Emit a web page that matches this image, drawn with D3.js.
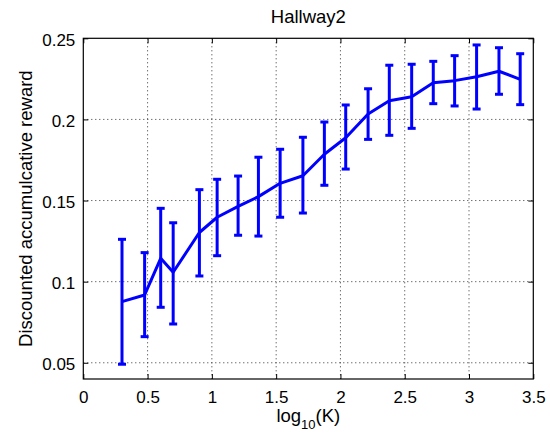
<!DOCTYPE html>
<html>
<head>
<meta charset="utf-8">
<script src="https://cdn.jsdelivr.net/npm/d3@7"></script>
<style>
  html, body { margin: 0; padding: 0; background: #fff; }
  svg { display: block; font-family: "Liberation Sans", Arial, Helvetica, sans-serif; }
</style>
</head>
<body>
<svg id="chart" width="550" height="433"></svg>
<script>
// log10(K) positions of the runs
const logK = [0.301, 0.477, 0.602, 0.699, 0.903, 1.041, 1.204, 1.362, 1.531, 1.708,
              1.875, 2.041, 2.215, 2.380, 2.554, 2.722, 2.888, 3.059, 3.233, 3.398];
// mean discounted reward
const meanReward = [0.0877, 0.0918, 0.1144, 0.1058, 0.1303, 0.1397, 0.1464, 0.1524, 0.1606, 0.1653,
                    0.1785, 0.1887, 0.2033, 0.2115, 0.2140, 0.2226, 0.2239, 0.2263, 0.2297, 0.2247];
// error bar ends
const upperReward = [0.1261, 0.1179, 0.1452, 0.1363, 0.1567, 0.1631, 0.1651, 0.1767, 0.1816, 0.1890,
                     0.1984, 0.2089, 0.2189, 0.2334, 0.2340, 0.2358, 0.2393, 0.2459, 0.2442, 0.2405];
const lowerReward = [0.0491, 0.0661, 0.0842, 0.0739, 0.1035, 0.1160, 0.1286, 0.1281, 0.1397, 0.1423,
                     0.1594, 0.1694, 0.1877, 0.1902, 0.1945, 0.2097, 0.2083, 0.2064, 0.2155, 0.2091];

const xTicks = [0, 0.5, 1, 1.5, 2, 2.5, 3, 3.5];
const yTicks = [0.05, 0.1, 0.15, 0.2, 0.25];

const margin = { left: 83.3, right: 550 - 533.3, top: 38.3, bottom: 433 - 379 };
const W = 550, H = 433;
const innerW = W - margin.left - margin.right;
const innerH = H - margin.top - margin.bottom;

const x = d3.scaleLinear().domain([0, 3.5]).range([0, innerW]);
const y = d3.scaleLinear().domain([0.04, 0.25]).range([innerH, 0]);

const svg = d3.select("#chart");
const g = svg.append("g").attr("transform", `translate(${margin.left},${margin.top})`);

// dotted grid
g.append("g").selectAll("line")
  .data(xTicks.slice(1, -1))
  .join("line")
  .attr("x1", d => x(d)).attr("x2", d => x(d))
  .attr("y1", 0).attr("y2", innerH)
  .attr("stroke", "#333").attr("stroke-width", 1)
  .attr("stroke-dasharray", "1,3");

g.append("g").selectAll("line")
  .data(yTicks.filter(d => d < 0.25))
  .join("line")
  .attr("y1", d => y(d)).attr("y2", d => y(d))
  .attr("x1", 0).attr("x2", innerW)
  .attr("stroke", "#333").attr("stroke-width", 1)
  .attr("stroke-dasharray", "1,3");

// axes, ticks pointing inward (matlab style)
const fmt = d => String(d);
const xAxis = g.append("g")
  .attr("transform", `translate(0,${innerH})`)
  .call(d3.axisBottom(x).tickValues(xTicks).tickFormat(fmt).tickSizeInner(-5).tickSizeOuter(0).tickPadding(12));
const xTop = g.append("g")
  .call(d3.axisTop(x).tickValues(xTicks).tickFormat("").tickSizeInner(-5).tickSizeOuter(0));
const yAxis = g.append("g")
  .call(d3.axisLeft(y).tickValues(yTicks).tickFormat(fmt).tickSizeInner(-5).tickSizeOuter(0).tickPadding(8));
const yRight = g.append("g")
  .attr("transform", `translate(${innerW},0)`)
  .call(d3.axisRight(y).tickValues(yTicks).tickFormat("").tickSizeInner(-5).tickSizeOuter(0));

[xAxis, xTop, yAxis, yRight].forEach(a => {
  a.select(".domain").remove();
  a.selectAll("line").attr("stroke", "#000");
  a.selectAll("text").attr("fill", "#000").style("font-size", "17px");
});
yAxis.selectAll("text").attr("dy", "0.4em");

// box
g.append("rect")
  .attr("x", 0).attr("y", 0).attr("width", innerW).attr("height", innerH)
  .attr("fill", "none").attr("stroke", "#000").attr("stroke-width", 1.2);

// error bars
const pts = logK.map((k, i) => ({ k, m: meanReward[i], lo: lowerReward[i], hi: upperReward[i] }));
const blue = "#0000ff";
const capW = 4;
const eb = g.append("g").attr("stroke", blue).attr("stroke-width", 3).attr("fill", "none");
eb.selectAll("line.v").data(pts).join("line").attr("class", "v")
  .attr("x1", d => x(d.k)).attr("x2", d => x(d.k))
  .attr("y1", d => y(d.lo)).attr("y2", d => y(d.hi));
eb.selectAll("line.t").data(pts).join("line").attr("class", "t")
  .attr("x1", d => x(d.k) - capW).attr("x2", d => x(d.k) + capW)
  .attr("y1", d => y(d.hi)).attr("y2", d => y(d.hi));
eb.selectAll("line.b").data(pts).join("line").attr("class", "b")
  .attr("x1", d => x(d.k) - capW).attr("x2", d => x(d.k) + capW)
  .attr("y1", d => y(d.lo)).attr("y2", d => y(d.lo));

// mean line
g.append("path")
  .datum(pts)
  .attr("fill", "none").attr("stroke", blue).attr("stroke-width", 3)
  .attr("stroke-linejoin", "round")
  .attr("d", d3.line().x(d => x(d.k)).y(d => y(d.m)));

// title and labels
svg.append("text")
  .attr("x", margin.left + innerW / 2).attr("y", 23)
  .attr("text-anchor", "middle").style("font-size", "18.5px")
  .text("Hallway2");

const xl = svg.append("text")
  .attr("x", margin.left + innerW / 2).attr("y", 422)
  .attr("text-anchor", "middle").style("font-size", "18.5px");
xl.append("tspan").text("log");
xl.append("tspan").attr("dy", 7).style("font-size", "13px").text("10");
xl.append("tspan").attr("dy", -7).text("(K)");

svg.append("text")
  .attr("transform", `translate(32,${margin.top + innerH / 2}) rotate(-90)`)
  .attr("text-anchor", "middle").style("font-size", "18.5px")
  .text("Discounted accumulcative reward");
</script>
</body>
</html>
